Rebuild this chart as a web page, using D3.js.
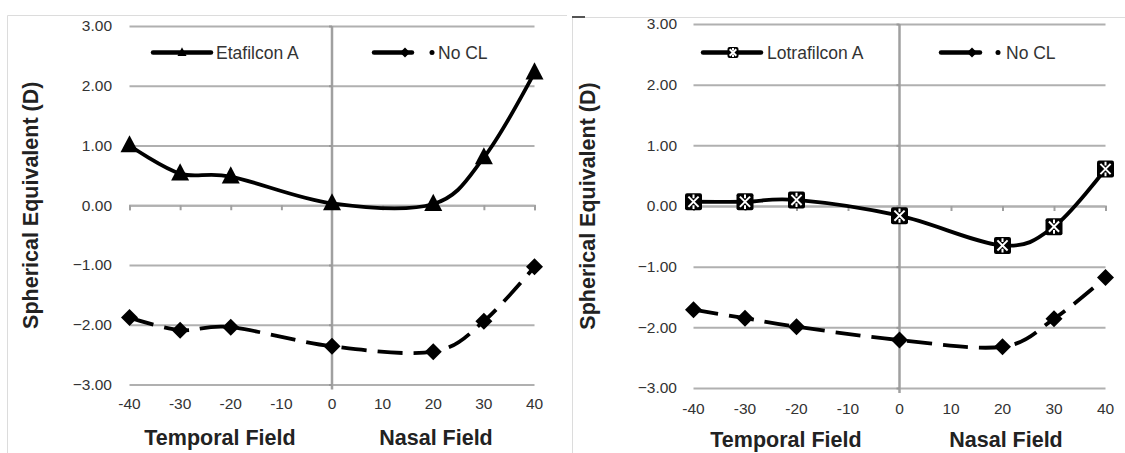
<!DOCTYPE html>
<html>
<head>
<meta charset="utf-8">
<script src="https://cdn.jsdelivr.net/npm/d3@7"></script>
<style>
  html, body { margin: 0; padding: 0; background: #fff; }
  svg { display: block; }
  text { font-family: "Liberation Sans", Arial, sans-serif; }
</style>
</head>
<body>
<svg id="chart" width="1125" height="453"></svg>
<script>
// ---- data ----
const xValues = [-40, -30, -20, 0, 20, 30, 40];
const etafilconA = [1.00, 0.53, 0.48, 0.03, 0.02, 0.80, 2.22];
const noCLLeft = [-1.88, -2.09, -2.04, -2.36, -2.45, -1.94, -1.03];
const lotrafilconA = [0.07, 0.07, 0.10, -0.16, -0.65, -0.34, 0.61];
const noCLRight = [-1.71, -1.85, -1.99, -2.21, -2.32, -1.86, -1.18];
const xTicks = [-40, -30, -20, -10, 0, 10, 20, 30, 40];
const yTicks = [-3, -2, -1, 0, 1, 2, 3];
const yTitle = "Spherical Equivalent (D)";
const xTitles = ["Temporal Field", "Nasal Field"];
const leftSeries = ["Etafilcon A", "No CL"];
const rightSeries = ["Lotrafilcon A", "No CL"];

const svg = d3.select("#chart");

// panel frames
svg.append("line").attr("x1", 7.5).attr("x2", 567).attr("y1", 15.5).attr("y2", 15.5).attr("stroke", "#dcdcdc").attr("stroke-width", 1);
svg.append("line").attr("x1", 7.5).attr("x2", 7.5).attr("y1", 15.5).attr("y2", 453).attr("stroke", "#dcdcdc").attr("stroke-width", 1);
svg.append("line").attr("x1", 572.5).attr("x2", 1125).attr("y1", 17.5).attr("y2", 17.5).attr("stroke", "#dcdcdc").attr("stroke-width", 1);
svg.append("line").attr("x1", 572.5).attr("x2", 572.5).attr("y1", 17.5).attr("y2", 453).attr("stroke", "#dcdcdc").attr("stroke-width", 1);
svg.append("line").attr("x1", 572).attr("x2", 585).attr("y1", 17).attr("y2", 17).attr("stroke", "#555").attr("stroke-width", 2);

const fmt = d3.format(".2f");

function markerTriangle(g, s) {
  const h = s * 0.95;
  g.append("path").attr("d", `M0,${-h*0.6} L${s/2},${h*0.4} L${-s/2},${h*0.4} Z`).attr("fill", "#000");
}
function markerDiamond(g, s) {
  g.append("path").attr("d", `M0,${-s/2} L${s/2},0 L0,${s/2} L${-s/2},0 Z`).attr("fill", "#000");
}
function markerStarSquare(g, s) {
  g.append("rect").attr("x", -s/2).attr("y", -s/2).attr("width", s).attr("height", s).attr("rx", 2).attr("fill", "#000");
  const a = s * 0.3;
  g.append("path").attr("d", `M${-a},${-a} L${a},${a} M${-a},${a} L${a},${-a} M0,${-s*0.42} L0,${-s*0.2} M0,${s*0.2} L0,${s*0.42}`)
    .attr("stroke", "#fff").attr("stroke-width", 2).attr("fill", "none");
}

function drawPanel(cfg) {
  const g = svg.append("g");
  const x = d3.scaleLinear().domain([-40, 40]).range(cfg.xr);
  const y = d3.scaleLinear().domain([-3, 3]).range(cfg.yr);

  // horizontal gridlines
  g.append("g").call(d3.axisLeft(y).tickValues(yTicks).tickSize(-(cfg.xr[1] - cfg.xr[0])).tickFormat(""))
    .attr("transform", `translate(${cfg.xr[0]},0)`)
    .call(a => a.select(".domain").remove())
    .call(a => a.selectAll(".tick line").attr("stroke", "#b0b0b0").attr("stroke-width", 2));

  // y tick labels
  g.append("g").selectAll("text").data(yTicks).join("text")
    .attr("x", cfg.yLabelX).attr("y", d => y(d)).attr("dy", "0.35em")
    .attr("text-anchor", "end").attr("font-size", 15.5).attr("fill", "#333")
    .text(d => fmt(d));

  // x axis at y=0 with ticks below
  g.append("g").attr("transform", `translate(0,${y(0)})`)
    .call(d3.axisBottom(x).tickValues(xTicks).tickSize(5).tickFormat(""))
    .call(a => a.select(".domain").attr("stroke", "#b0b0b0").attr("stroke-width", 2))
    .call(a => a.selectAll(".tick line").attr("stroke", "#a0a0a0").attr("stroke-width", 2));

  // vertical axis at x=0
  g.append("g").attr("transform", `translate(${x(0)},0)`)
    .call(d3.axisLeft(y).tickValues(yTicks).tickSize(3).tickFormat("").tickSizeOuter(0))
    .call(a => a.select(".domain").attr("stroke", "#a0a0a0").attr("stroke-width", 2.5)
      .attr("d", `M0,${y(3)}V${y(-3) + 5}`))
    .call(a => a.selectAll(".tick line").attr("stroke", "#999").attr("stroke-width", 2));

  // x tick labels at bottom
  g.append("g").selectAll("text").data(xTicks).join("text")
    .attr("x", d => x(d)).attr("y", cfg.xLabelY).attr("dy", "0.35em")
    .attr("text-anchor", "middle").attr("font-size", 15.5).attr("fill", "#333")
    .text(d => d);

  // axis titles
  g.append("text").attr("x", cfg.tTitleX).attr("y", cfg.titleBaseline).attr("text-anchor", "middle")
    .attr("font-size", 21.5).attr("font-weight", "bold").attr("fill", "#222").text(xTitles[0]);
  g.append("text").attr("x", cfg.nTitleX).attr("y", cfg.titleBaseline).attr("text-anchor", "middle")
    .attr("font-size", 21.5).attr("font-weight", "bold").attr("fill", "#222").text(xTitles[1]);
  g.append("text").attr("transform", `translate(${cfg.yTitleX},${(cfg.yr[0] + cfg.yr[1]) / 2}) rotate(-90)`)
    .attr("text-anchor", "middle").attr("dy", "0.35em")
    .attr("font-size", 21.5).attr("font-weight", "bold").attr("fill", "#222").text(yTitle);

  const line = d3.line().x(d => x(d[0])).y(d => y(d[1])).curve(d3.curveCardinal.tension(0));

  // No CL (dashed)
  const pB = xValues.map((v, i) => [v, cfg.seriesB[i]]);
  g.append("path").attr("d", line(pB)).attr("fill", "none").attr("stroke", "#000")
    .attr("stroke-width", 3.8).attr("stroke-dasharray", "25,11");
  pB.forEach(p => markerDiamond(g.append("g").attr("transform", `translate(${x(p[0])},${y(p[1])})`), 17));

  // Lens series (solid)
  const pA = xValues.map((v, i) => [v, cfg.seriesA[i]]);
  g.append("path").attr("d", line(pA)).attr("fill", "none").attr("stroke", "#000").attr("stroke-width", 3.8);
  pA.forEach(p => cfg.markerA(g.append("g").attr("transform", `translate(${x(p[0])},${y(p[1])})`), cfg.markerSize));

  // legend
  const lg = svg.append("g");
  const ly = 52.5;
  lg.append("line").attr("x1", cfg.legA[0]).attr("x2", cfg.legA[1]).attr("y1", ly).attr("y2", ly)
    .attr("stroke", "#000").attr("stroke-width", 4.5).attr("stroke-linecap", "round");
  cfg.markerA(lg.append("g").attr("transform", `translate(${cfg.legA[2]},${ly})`), cfg.legMarkerSize);
  lg.append("text").attr("x", cfg.legA[3]).attr("y", ly).attr("dy", "0.35em").attr("font-size", 17.5)
    .attr("fill", "#333").text(cfg.names[0]);
  lg.append("line").attr("x1", cfg.legB[0]).attr("x2", cfg.legB[1]).attr("y1", ly).attr("y2", ly)
    .attr("stroke", "#000").attr("stroke-width", 4.5).attr("stroke-linecap", "round");
  markerDiamond(lg.append("g").attr("transform", `translate(${cfg.legB[2]},${ly})`), 10);
  lg.append("circle").attr("cx", cfg.legB[3]).attr("cy", ly).attr("r", 2.5).attr("fill", "#000");
  lg.append("text").attr("x", cfg.legB[4]).attr("y", ly).attr("dy", "0.35em").attr("font-size", 17.5)
    .attr("fill", "#333").text(cfg.names[1]);
}

drawPanel({
  xr: [129.5, 534.5], yr: [384.5, 26], yLabelX: 112, xLabelY: 404, titleBaseline: 445,
  tTitleX: 220, nTitleX: 436, yTitleX: 30,
  seriesA: etafilconA, seriesB: noCLLeft, names: leftSeries,
  markerA: markerTriangle, markerSize: 18, legMarkerSize: 9,
  legA: [153, 211, 182, 216], legB: [374, 412, 405, 432, 438]
});

drawPanel({
  xr: [693.5, 1105.5], yr: [388, 24], yLabelX: 677, xLabelY: 409, titleBaseline: 447,
  tTitleX: 786, nTitleX: 1006, yTitleX: 587,
  seriesA: lotrafilconA, seriesB: noCLRight, names: rightSeries,
  markerA: markerStarSquare, markerSize: 17, legMarkerSize: 11,
  legA: [703, 761, 733, 767], legB: [941, 980, 972, 998, 1006]
});
</script>
</body>
</html>
